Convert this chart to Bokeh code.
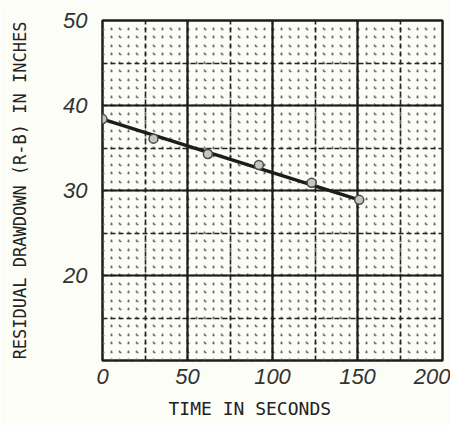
from bokeh.plotting import figure
from bokeh.models import Range1d, SingleIntervalTicker, FixedTicker, Grid, Title
from bokeh.embed import file_html
from bokeh.resources import INLINE

# data
time_s = [0, 30, 62, 92, 123, 151]
drawdown_in = [38.4, 36.1, 34.3, 33.0, 30.9, 28.9]
fit_time = [0, 151]
fit_drawdown = [38.4, 28.9]
x_ticks = [0, 50, 100, 150, 200]
y_ticks = [20, 30, 40, 50]

BG = "#fdfdf7"
INK = "#1c1c1c"

p = figure(frame_width=340, frame_height=340,
           x_range=Range1d(0, 200), y_range=Range1d(10, 50),
           output_backend="svg", toolbar_location=None,
           min_border_left=102, min_border_right=8,
           min_border_top=20, min_border_bottom=10,
           background_fill_color=BG, border_fill_color=BG,
           outline_line_color=INK, outline_line_width=2.5)

p.grid.grid_line_color = None

# dotted lattice (5 s x 1 in); period 17 px = two cells of 8.5 px
DOTS = "2 6 2 7"
p.add_layout(Grid(dimension=0, ticker=SingleIntervalTicker(interval=5),
                  grid_line_color="#6a6a6a", grid_line_width=1.5, grid_line_dash=DOTS))
p.add_layout(Grid(dimension=1, ticker=SingleIntervalTicker(interval=1),
                  grid_line_color="#6a6a6a", grid_line_width=1.5, grid_line_dash=DOTS))
# dashed medium lines
p.add_layout(Grid(dimension=0, ticker=SingleIntervalTicker(interval=25),
                  grid_line_color="#222222", grid_line_width=1.6, grid_line_dash="5 3"))
p.add_layout(Grid(dimension=1, ticker=SingleIntervalTicker(interval=5),
                  grid_line_color="#222222", grid_line_width=1.6, grid_line_dash="5 3"))
# heavy major lines
p.add_layout(Grid(dimension=0, ticker=SingleIntervalTicker(interval=50),
                  grid_line_color=INK, grid_line_width=2.2))
p.add_layout(Grid(dimension=1, ticker=SingleIntervalTicker(interval=10),
                  grid_line_color=INK, grid_line_width=2.2))

p.xaxis.ticker = FixedTicker(ticks=x_ticks)
p.yaxis.ticker = FixedTicker(ticks=y_ticks)
for ax in (p.xaxis, p.yaxis):
    ax.axis_line_color = None
    ax.major_tick_line_color = None
    ax.minor_tick_line_color = None
    ax.major_label_text_font = "Liberation Sans"
    ax.major_label_text_font_style = "italic"
    ax.major_label_text_font_size = "22px"
    ax.major_label_text_color = "#333333"
p.xaxis.major_label_standoff = 2
p.yaxis.major_label_standoff = 9

p.yaxis.axis_label = "RESIDUAL DRAWDOWN (R-B) IN INCHES"
p.yaxis.axis_label_text_font = "DejaVu Sans Mono"
p.yaxis.axis_label_text_font_style = "normal"
p.yaxis.axis_label_text_font_size = "17px"
p.yaxis.axis_label_text_color = "#222222"
p.yaxis.axis_label_standoff = 30

xtitle = Title(text="TIME IN SECONDS", align="left", offset=66, standoff=19,
               text_font="DejaVu Sans Mono", text_font_style="normal",
               text_font_size="18px", text_color="#222222")
p.add_layout(xtitle, "below")

p.line(fit_time, fit_drawdown, line_color=INK, line_width=3.5)
p.scatter(time_s, drawdown_in, marker="circle", size=9,
          fill_color="#c4c4c4", line_color="#4a4a4a", line_width=1.5)

open("out.html", "w").write(file_html(p, INLINE))
